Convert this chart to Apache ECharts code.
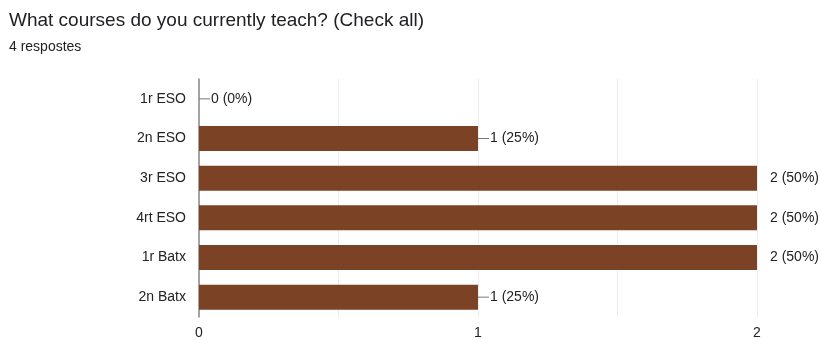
<!DOCTYPE html>
<html>
<head>
<meta charset="utf-8">
<script src="https://cdn.jsdelivr.net/npm/echarts@6/dist/echarts.min.js"></script>
<style>html,body{margin:0;padding:0;background:#fff}#c{width:821px;height:340px}</style>
</head>
<body>
<div id="c"></div>
<script>
var categories = ['1r ESO', '2n ESO', '3r ESO', '4rt ESO', '1r Batx', '2n Batx'];
var values = [0, 1, 2, 2, 2, 1];
var percents = [0, 25, 50, 50, 50, 25];
var maxValue = 2;

var chart = echarts.init(document.getElementById('c'));
var font = '"Liberation Sans", Arial, sans-serif';
chart.setOption({
  animation: false,
  title: [
    { text: 'What courses do you currently teach? (Check all)', left: 4, top: 6,
      textStyle: { fontFamily: font, fontSize: 19, fontWeight: 'normal', color: '#202124' } },
    { text: '4 respostes', left: 4, top: 35,
      textStyle: { fontFamily: font, fontSize: 14, fontWeight: 'normal', color: '#202124' } }
  ],
  grid: { left: 199, right: 64, top: 79, bottom: 23, containLabel: false },
  xAxis: {
    type: 'value', min: 0, max: maxValue, interval: 0.5,
    axisLine: { show: false }, axisTick: { show: false },
    splitLine: { show: true, lineStyle: { color: '#ececec', width: 1 } },
    axisLabel: { fontFamily: font, fontSize: 14, color: '#222', margin: 9,
      formatter: function (v) { return Number.isInteger(v) ? String(v) : ''; } }
  },
  yAxis: {
    type: 'category', data: categories, inverse: true,
    axisLine: { show: true, lineStyle: { color: '#888', width: 1.5 } },
    axisTick: { show: false },
    axisLabel: { fontFamily: font, fontSize: 14, color: '#222', margin: 13 }
  },
  series: [{
    type: 'bar',
    data: values.map(function (v, i) {
      var atMax = v >= maxValue;
      return {
        value: v,
        label: atMax ? {
          show: true, position: 'right', distance: 13,
          formatter: v + ' (' + percents[i] + '%)'
        } : {
          show: true, position: 'right', distance: 0,
          formatter: '{l|}{t|' + v + ' (' + percents[i] + '%)}'
        }
      };
    }),
    barWidth: 25,
    itemStyle: { color: '#7b4226' },
    label: {
      fontFamily: font, fontSize: 14, color: '#222',
      rich: {
        l: { width: 11, height: 1, backgroundColor: '#777' },
        t: { fontFamily: font, fontSize: 14, color: '#222', padding: [0, 0, 0, 1] }
      }
    }
  }]
});
</script>
</body>
</html>
